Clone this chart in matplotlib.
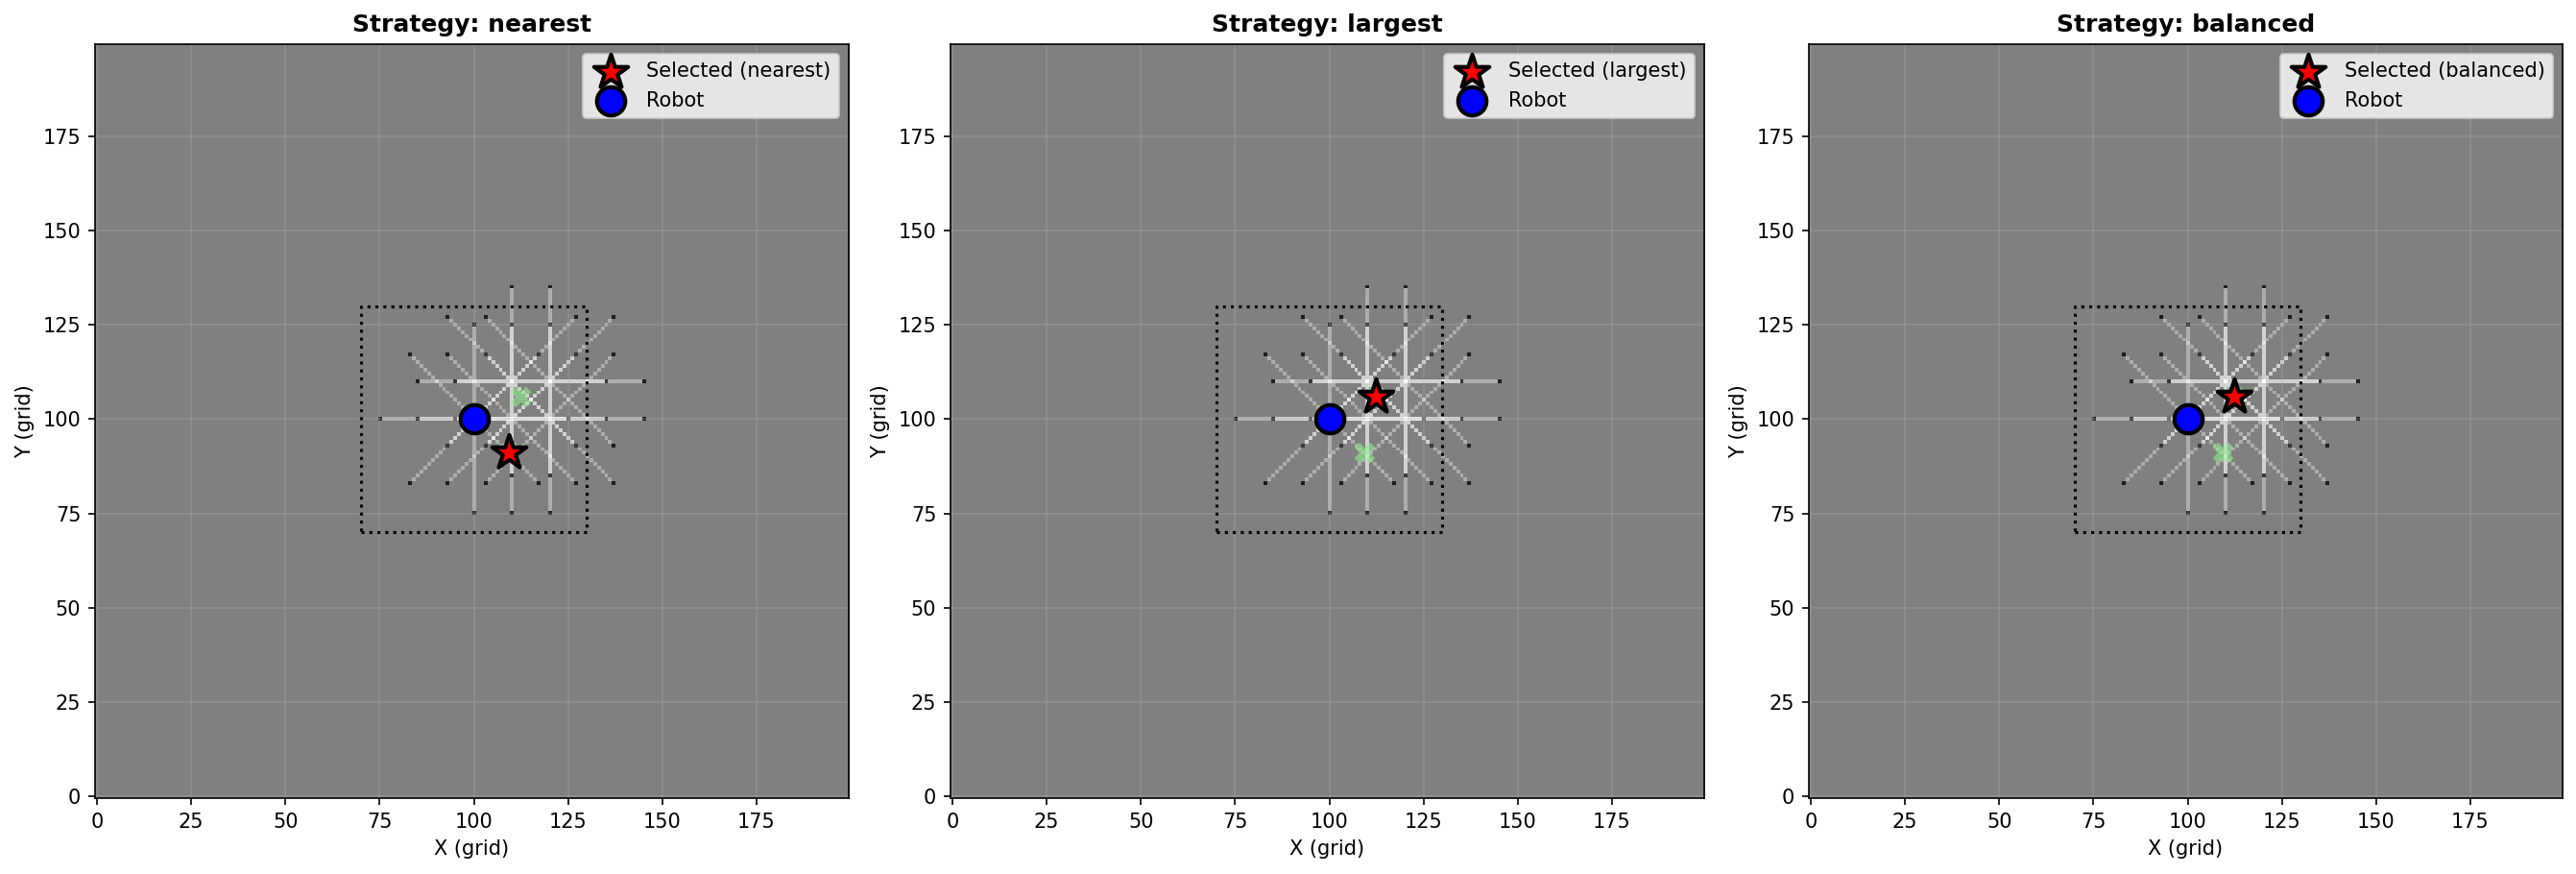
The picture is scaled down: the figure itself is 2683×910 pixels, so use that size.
import numpy as np
import matplotlib
matplotlib.use('Agg')
import matplotlib.pyplot as plt

# ---------------- data ----------------
GRID_SIZE = 200
robot_x, robot_y = 100, 100
scan_x = [100, 110, 120, 110, 120]          # sensor scan origins (grid cells)
scan_y = [100, 100, 100, 110, 110]
ray_angles_deg = [0, 45, 90, 135, 180, 225, 270, 315]
ray_range = 25
window_x = [70, 130, 130, 70, 70]            # local search window
window_y = [70, 70, 130, 130, 70]
candidate_x = [112.3, 109.3]                 # frontier candidates
candidate_y = [106.0, 91.2]
strategies = ['nearest', 'largest', 'balanced']
selected_idx = [1, 0, 0]
L_FREE = -0.75
L_OCC = 2.0
ticks = [0, 25, 50, 75, 100, 125, 150, 175]


def bresenham(x0, y0, x1, y1):
    cells = []
    dx = abs(x1 - x0)
    dy = -abs(y1 - y0)
    sx = 1 if x0 < x1 else -1
    sy = 1 if y0 < y1 else -1
    err = dx + dy
    x, y = x0, y0
    while True:
        cells.append((x, y))
        if x == x1 and y == y1:
            break
        e2 = 2 * err
        if e2 >= dy:
            err += dy
            x += sx
        if e2 <= dx:
            err += dx
            y += sy
    return cells


logodds = np.zeros((GRID_SIZE, GRID_SIZE))
for ox, oy in zip(scan_x, scan_y):
    for a in ray_angles_deg:
        t = np.deg2rad(a)
        ex = ox + int(ray_range * np.cos(t))
        ey = oy + int(ray_range * np.sin(t))
        cells = bresenham(ox, oy, ex, ey)
        for cx, cy in cells[:-1]:
            logodds[cy, cx] += L_FREE
        logodds[ey, ex] += L_OCC

prob = 1.0 / (1.0 + np.exp(-logodds))
display = 1.0 - prob

W, H = 2683, 910
fig = plt.figure(figsize=(W / 150, H / 150), dpi=150)
lefts = [98.3, 989.3, 1883.3]
axw = 786.5 / W
axh = 785.4 / H
bottom = (H - 831) / H

for i, strat in enumerate(strategies):
    ax = fig.add_axes([lefts[i] / W, bottom, axw, axh])
    ax.imshow(display, cmap='gray', vmin=0, vmax=1, origin='lower',
              interpolation='nearest')
    ax.plot(window_x, window_y, 'k:', lw=1.5)
    ax.scatter(candidate_x, candidate_y, marker='X', s=110, color='lightgreen',
               alpha=0.6, linewidths=0, zorder=4)
    si = selected_idx[i]
    ax.scatter([candidate_x[si]], [candidate_y[si]], marker='*', s=320, c='red',
               edgecolors='black', linewidths=2, zorder=6,
               label=f'Selected ({strat})')
    ax.scatter([robot_x], [robot_y], marker='o', s=200, c='blue',
               edgecolors='black', linewidths=2, zorder=5, label='Robot')
    ax.set_xlim(-0.5, GRID_SIZE - 0.5)
    ax.set_ylim(-0.5, GRID_SIZE - 0.5)
    ax.set_xticks(ticks)
    ax.set_yticks(ticks)
    ax.grid(True, alpha=0.3)
    ax.set_title(f'Strategy: {strat}', fontsize=12, fontweight='bold')
    ax.set_xlabel('X (grid)')
    ax.set_ylabel('Y (grid)')
    ax.legend(loc='upper right', fontsize=10)

fig.savefig('out.png', dpi=150)
